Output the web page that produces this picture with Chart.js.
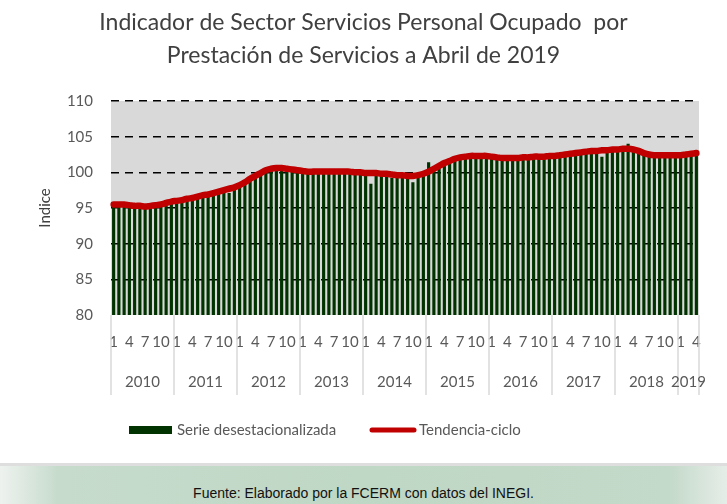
<!DOCTYPE html>
<html>
<head>
<meta charset="utf-8">
<script src="https://cdn.jsdelivr.net/npm/chart.js@4.4.0/dist/chart.umd.min.js"></script>
<style>
    html, body { margin: 0; padding: 0; background: #ffffff; }
    #wrap { width: 727px; height: 504px; position: relative; overflow: hidden; }
    #chart { display: block; }
    .fuente {
        position: absolute; left: 0; top: 463px; width: 727px; height: 41px;
        border-top: 3px solid #dedede;
        background: linear-gradient(to right, #eef2ef 0%, #c6dbcc 8%, #bfd7c5 50%, #c3d9c9 92%, #e6ede8 100%);
        font-family: "Liberation Sans", Arial, sans-serif; font-size: 14px; color: #111;
        text-align: center; line-height: 54px;
    }
</style>
</head>
<body>
<div id="wrap">
    <canvas id="chart" width="727" height="462"></canvas>
    <div class="fuente">Fuente: Elaborado por la FCERM con datos del INEGI.</div>
</div>
<script>
// Serie mensual enero 2010 - abril 2019
const years = ['2010', '2011', '2012', '2013', '2014', '2015', '2016', '2017', '2018', '2019'];
const months = [
    '1','2','3','4','5','6','7','8','9','10','11','12',
    '1','2','3','4','5','6','7','8','9','10','11','12',
    '1','2','3','4','5','6','7','8','9','10','11','12',
    '1','2','3','4','5','6','7','8','9','10','11','12',
    '1','2','3','4','5','6','7','8','9','10','11','12',
    '1','2','3','4','5','6','7','8','9','10','11','12',
    '1','2','3','4','5','6','7','8','9','10','11','12',
    '1','2','3','4','5','6','7','8','9','10','11','12',
    '1','2','3','4','5','6','7','8','9','10','11','12',
    '1','2','3','4'
];
const monthYears = [
    '2010','2010','2010','2010','2010','2010','2010','2010','2010','2010','2010','2010',
    '2011','2011','2011','2011','2011','2011','2011','2011','2011','2011','2011','2011',
    '2012','2012','2012','2012','2012','2012','2012','2012','2012','2012','2012','2012',
    '2013','2013','2013','2013','2013','2013','2013','2013','2013','2013','2013','2013',
    '2014','2014','2014','2014','2014','2014','2014','2014','2014','2014','2014','2014',
    '2015','2015','2015','2015','2015','2015','2015','2015','2015','2015','2015','2015',
    '2016','2016','2016','2016','2016','2016','2016','2016','2016','2016','2016','2016',
    '2017','2017','2017','2017','2017','2017','2017','2017','2017','2017','2017','2017',
    '2018','2018','2018','2018','2018','2018','2018','2018','2018','2018','2018','2018',
    '2019','2019','2019','2019'
];

const serieDesestacionalizada = [
    95.2, 95.3, 95.2, 95.1, 95.1, 95.0, 95.0, 95.0, 95.1, 95.3, 95.4, 95.6,
    95.8, 95.9, 96.0, 96.2, 96.3, 96.5, 96.7, 96.8, 97.0, 97.1, 97.1, 97.6,
    98.0, 98.4, 98.9, 99.3, 99.8, 100.1, 100.4, 100.4, 100.5, 100.3, 100.2, 100.1,
    100.0, 99.9, 99.9, 100.0, 99.9, 99.9, 100.0, 99.9, 99.9, 99.9, 99.8, 99.8,
    99.7, 98.4, 99.7, 99.6, 99.6, 99.2, 100.0, 99.4, 99.8, 98.6, 99.4, 99.6,
    101.4, 100.3, 100.7, 101.1, 101.4, 101.7, 101.9, 102.0, 102.1, 102.1, 102.1, 102.1,
    102.0, 101.9, 101.8, 101.8, 101.8, 101.8, 101.9, 101.9, 102.0, 102.0, 102.0, 102.1,
    102.1, 102.2, 102.3, 102.4, 102.5, 102.6, 102.7, 102.8, 102.8, 102.2, 103.4, 103.0,
    103.0, 103.1, 104.0, 103.0, 102.8, 102.5, 102.3, 102.2, 102.2, 102.2, 102.2, 102.2,
    102.2, 102.3, 102.4, 102.5
];

const tendenciaCiclo = [
    95.5, 95.5, 95.5, 95.4, 95.3, 95.3, 95.2, 95.3, 95.4, 95.5, 95.7, 95.9,
    96.0, 96.1, 96.3, 96.4, 96.6, 96.8, 96.9, 97.1, 97.3, 97.5, 97.7, 97.9,
    98.2, 98.6, 99.1, 99.5, 99.9, 100.3, 100.5, 100.6, 100.6, 100.5, 100.4, 100.3,
    100.2, 100.1, 100.1, 100.1, 100.1, 100.1, 100.1, 100.1, 100.1, 100.1, 100.0, 100.0,
    99.9, 99.9, 99.9, 99.8, 99.8, 99.7, 99.6, 99.6, 99.5, 99.5, 99.6, 99.8,
    100.1, 100.5, 100.9, 101.3, 101.6, 101.9, 102.1, 102.2, 102.3, 102.3, 102.3, 102.3,
    102.2, 102.1, 102.0, 102.0, 102.0, 102.0, 102.1, 102.1, 102.2, 102.2, 102.2, 102.3,
    102.3, 102.4, 102.5, 102.6, 102.7, 102.8, 102.9, 103.0, 103.0, 103.1, 103.1, 103.2,
    103.2, 103.3, 103.3, 103.2, 103.0, 102.7, 102.5, 102.4, 102.4, 102.4, 102.4, 102.4,
    102.4, 102.5, 102.6, 102.7
];

const yTicks = [80, 85, 90, 95, 100, 105, 110];
const shownMonths = ['1', '4', '7', '10'];

const textColor = '#595959';
const barColor = '#003300';
const lineColor = '#c00000';
const baseFont = 'Lato, "Open Sans", sans-serif';

// fondo gris del area de trazado
const plotBackground = {
    id: 'plotBackground',
    beforeDraw(chart) {
        const { ctx, chartArea } = chart;
        ctx.save();
        ctx.fillStyle = '#d9d9d9';
        ctx.fillRect(chartArea.left, chartArea.top, chartArea.right - chartArea.left, chartArea.bottom - chartArea.top);
        ctx.restore();
    }
};

// etiquetas de año, separadores y leyenda
const yearAxis = {
    id: 'yearAxis',
    afterDraw(chart) {
        const { ctx, chartArea, scales } = chart;
        const x = scales.x;
        const half = (x.getPixelForValue(1) - x.getPixelForValue(0)) / 2;
        const top = chartArea.bottom;
        const bottom = chartArea.bottom + 80;
        ctx.save();
        ctx.strokeStyle = '#d9d9d9';
        ctx.lineWidth = 1.5;
        years.forEach(yr => {
            const first = monthYears.indexOf(yr);
            const last = monthYears.lastIndexOf(yr);
            const x0 = x.getPixelForValue(first) - half;
            const x1 = x.getPixelForValue(last) + half;
            ctx.beginPath();
            ctx.moveTo(x0, top);
            ctx.lineTo(x0, bottom);
            ctx.stroke();
            if (yr === years[years.length - 1]) {
                ctx.beginPath();
                ctx.moveTo(x1, top);
                ctx.lineTo(x1, bottom);
                ctx.stroke();
            }
            ctx.fillStyle = textColor;
            ctx.font = '15px ' + baseFont;
            ctx.textAlign = 'center';
            ctx.textBaseline = 'middle';
            ctx.fillText(yr, (x0 + x1) / 2, chartArea.bottom + 67);
        });

        // leyenda
        const ly = chartArea.bottom + 115;
        ctx.fillStyle = barColor;
        ctx.fillRect(129, ly - 4, 43, 8);
        ctx.fillStyle = textColor;
        ctx.font = '15px ' + baseFont;
        ctx.textAlign = 'left';
        ctx.textBaseline = 'middle';
        ctx.fillText(chart.data.datasets[1].label, 177, ly);
        ctx.strokeStyle = lineColor;
        ctx.lineWidth = 5;
        ctx.lineCap = 'round';
        ctx.beginPath();
        ctx.moveTo(372, ly);
        ctx.lineTo(414, ly);
        ctx.stroke();
        ctx.fillText(chart.data.datasets[0].label, 419, ly);
        ctx.restore();
    }
};

new Chart(document.getElementById('chart'), {
    data: {
        labels: months,
        datasets: [
            {
                type: 'line',
                label: 'Tendencia-ciclo',
                data: tendenciaCiclo,
                borderColor: lineColor,
                borderWidth: 6.5,
                borderCapStyle: 'round',
                pointRadius: 0,
                tension: 0.4,
                order: 0
            },
            {
                type: 'bar',
                label: 'Serie desestacionalizada',
                data: serieDesestacionalizada,
                backgroundColor: barColor,
                barPercentage: 0.6,
                categoryPercentage: 1,
                order: 1
            }
        ]
    },
    options: {
        responsive: false,
        animation: false,
        layout: { padding: 0 },
        plugins: {
            legend: { display: false },
            tooltip: { enabled: false },
            title: {
                display: true,
                text: ['Indicador de Sector Servicios Personal Ocupado  por', 'Prestación de Servicios a Abril de 2019'],
                color: '#404040',
                font: { family: baseFont, size: 23, weight: 'normal', lineHeight: 1.45 },
                padding: { top: 6, bottom: 28.3 }
            }
        },
        scales: {
            x: {
                grid: { display: false, drawTicks: false },
                border: { display: false },
                ticks: {
                    autoSkip: false,
                    maxRotation: 0,
                    padding: 18,
                    color: textColor,
                    font: { family: baseFont, size: 15 },
                    callback: function (value) {
                        const m = months[value];
                        return shownMonths.includes(m) ? m : '';
                    }
                },
                afterFit(scale) { scale.height = 147; }
            },
            y: {
                min: 80,
                max: 110,
                afterBuildTicks(scale) { scale.ticks = yTicks.map(v => ({ value: v })); },
                grid: {
                    drawTicks: false,
                    color: ctx => ctx.tick && ctx.tick.value === 80 ? 'rgba(0,0,0,0)' : '#000000',
                    lineWidth: 1.6
                },
                border: { display: false, dash: [8, 6] },
                ticks: {
                    padding: 18,
                    color: textColor,
                    font: { family: baseFont, size: 15 }
                },
                title: {
                    display: true,
                    text: 'Indice',
                    color: '#404040',
                    font: { family: baseFont, size: 15 },
                    padding: { top: 36, bottom: 0 }
                },
                afterFit(scale) { scale.width = 111; }
            },
            // eje vacio a la derecha, solo reserva margen
            yRight: {
                position: 'right',
                grid: { display: false, drawTicks: false },
                border: { display: false },
                ticks: { display: false },
                afterFit(scale) { scale.width = 28; }
            }
        }
    },
    plugins: [plotBackground, yearAxis]
});
</script>
</body>
</html>
